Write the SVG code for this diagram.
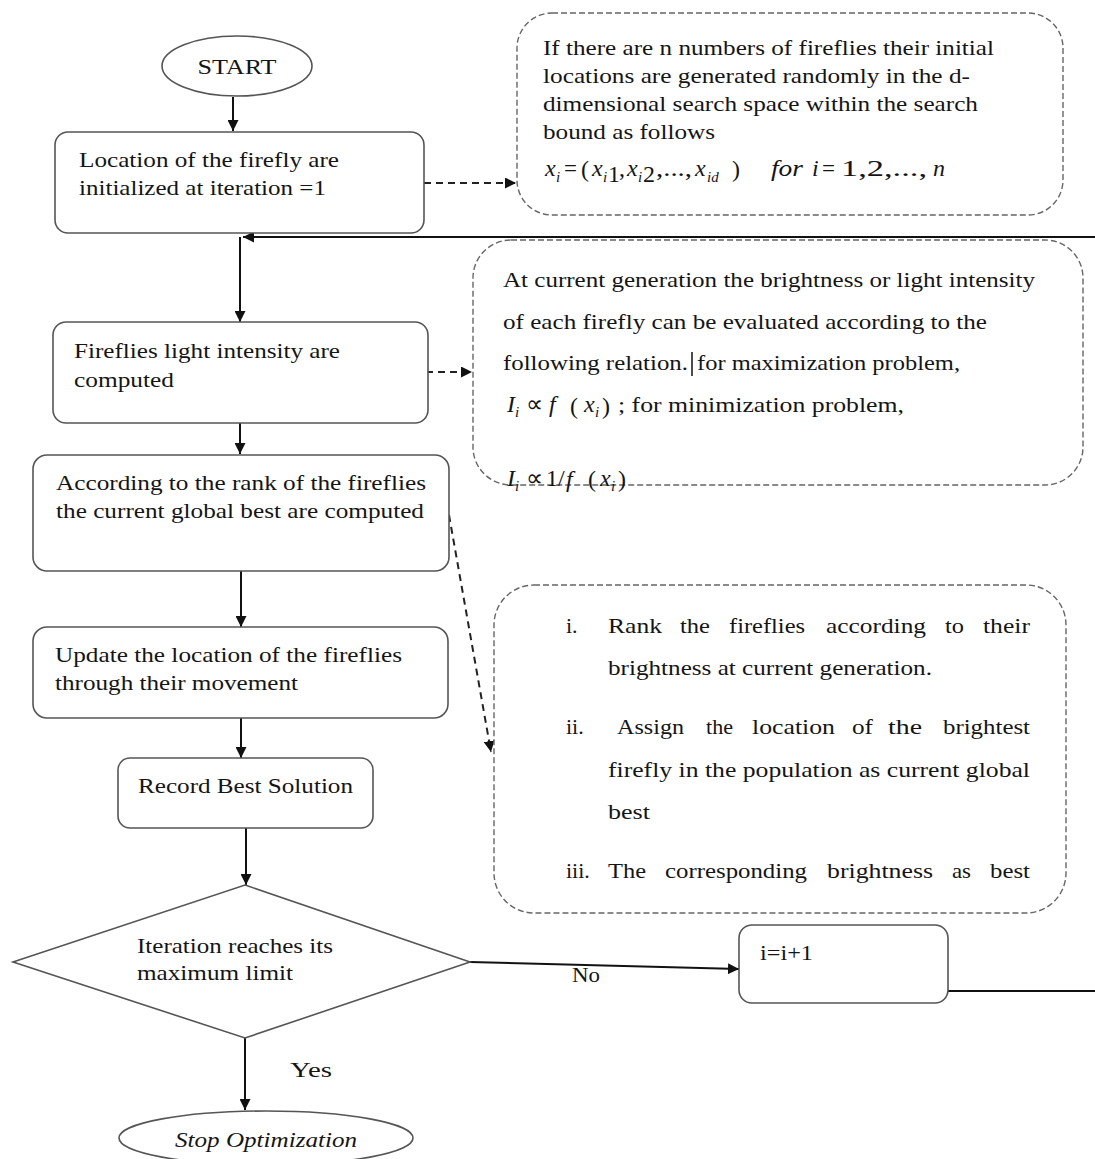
<svg xmlns="http://www.w3.org/2000/svg" width="1095" height="1159" viewBox="0 0 1095 1159">
<defs>
<style>
.t{font-family:"Liberation Serif","Times New Roman",serif;font-size:22px;fill:#151515}
.m{font-family:"Liberation Serif","Times New Roman",serif;font-size:24px;fill:#151515;font-style:italic}
.u{font-family:"Liberation Serif","Times New Roman",serif;font-size:24px;fill:#151515}
.s{font-family:"Liberation Serif","Times New Roman",serif;font-size:15px;fill:#151515;font-style:italic}
.box{fill:#fff;stroke:#555;stroke-width:1.6}
.dbox{fill:none;stroke:#666;stroke-width:1.4;stroke-dasharray:6 3}
.conn{fill:none;stroke:#111;stroke-width:2}
.dconn{fill:none;stroke:#222;stroke-width:2;stroke-dasharray:7 5}
</style>
<marker id="ah" viewBox="0 0 10 10" refX="10" refY="5" markerWidth="11" markerHeight="11" markerUnits="userSpaceOnUse" orient="auto">
<path d="M0,0 L10,5 L0,10 z" fill="#111"/>
</marker>
</defs>
<rect width="1095" height="1159" fill="#fff"/>

<g id="connectors">
<line class="conn" x1="233" y1="97" x2="233" y2="131" marker-end="url(#ah)"/>
<line class="dconn" x1="424" y1="183" x2="516" y2="183" marker-end="url(#ah)"/>
<line class="conn" x1="1095" y1="237" x2="243" y2="237" stroke-width="2.5" marker-end="url(#ah)"/>
<line class="conn" x1="240" y1="237" x2="240" y2="322" marker-end="url(#ah)"/>
<line class="dconn" x1="426" y1="372" x2="472" y2="372" marker-end="url(#ah)"/>
<line class="conn" x1="240" y1="423" x2="240" y2="454" marker-end="url(#ah)"/>
<line class="dconn" x1="449" y1="515" x2="491" y2="752" marker-end="url(#ah)"/>
<line class="conn" x1="241" y1="571" x2="241" y2="627" marker-end="url(#ah)"/>
<line class="conn" x1="241" y1="718" x2="241" y2="758" marker-end="url(#ah)"/>
<line class="conn" x1="246" y1="828" x2="246" y2="885" marker-end="url(#ah)"/>
<line class="conn" x1="470" y1="962" x2="739" y2="969" marker-end="url(#ah)"/>
<line class="conn" x1="245" y1="1038" x2="245" y2="1110" marker-end="url(#ah)"/>
<line class="conn" x1="948" y1="991" x2="1095" y2="991" stroke-width="2.5"/>
<text class="t" x="572" y="982" textLength="28" lengthAdjust="spacingAndGlyphs">No</text>
<text class="t" x="290" y="1077" font-size="26" textLength="42" lengthAdjust="spacingAndGlyphs">Yes</text>
</g>

<g id="start">
<ellipse class="box" cx="237" cy="66" rx="75" ry="30"/>
<text class="t" x="237" y="74" font-size="24" text-anchor="middle" textLength="79" lengthAdjust="spacingAndGlyphs">START</text>
</g>

<g id="init">
<rect class="box" x="55" y="132" width="369" height="101" rx="13"/>
<text class="t" x="79" y="167" textLength="260" lengthAdjust="spacingAndGlyphs">Location of the firefly are</text>
<text class="t" x="79" y="195" textLength="247" lengthAdjust="spacingAndGlyphs">initialized at iteration =1</text>
</g>

<g id="note-init">
<rect class="dbox" x="517" y="13" width="546" height="202" rx="35"/>
<text class="t" x="543" y="55" textLength="451" lengthAdjust="spacingAndGlyphs">If there are n numbers of fireflies their initial</text>
<text class="t" x="543" y="83" textLength="427" lengthAdjust="spacingAndGlyphs">locations are generated randomly in the d-</text>
<text class="t" x="543" y="111" textLength="435" lengthAdjust="spacingAndGlyphs">dimensional search space within the search</text>
<text class="t" x="543" y="139" textLength="172" lengthAdjust="spacingAndGlyphs">bound as follows</text>
<text class="m" x="545" y="176">x</text><text class="s" x="556" y="182">i</text>
<text class="u" x="564" y="176" textLength="13" lengthAdjust="spacingAndGlyphs">=</text>
<text class="u" x="581" y="177" font-size="28">(</text>
<text class="m" x="592" y="176">x</text><text class="s" x="603" y="182">i</text><text class="u" x="608" y="182" font-size="17">1</text>
<text class="u" x="619" y="176">,</text>
<text class="m" x="627" y="176">x</text><text class="s" x="638" y="182">i</text><text class="u" x="643" y="182" font-size="17">2</text>
<text class="u" x="656" y="176" font-size="20" textLength="36" lengthAdjust="spacingAndGlyphs">,...,</text>
<text class="m" x="695" y="176">x</text><text class="s" x="707" y="182" font-size="17">id</text>
<text class="u" x="732" y="177" font-size="28">)</text>
<text class="m" x="771" y="176" textLength="32" lengthAdjust="spacingAndGlyphs">for</text>
<text class="m" x="812" y="176">i</text>
<text class="u" x="822" y="176" textLength="13" lengthAdjust="spacingAndGlyphs">=</text>
<text class="u" x="841" y="176" textLength="86" lengthAdjust="spacingAndGlyphs">1,2,...,</text>
<text class="m" x="933" y="176">n</text>
</g>

<g id="intensity">
<rect class="box" x="53" y="322" width="375" height="101" rx="13"/>
<text class="t" x="74" y="358" textLength="266" lengthAdjust="spacingAndGlyphs">Fireflies light intensity are</text>
<text class="t" x="74" y="387" textLength="100" lengthAdjust="spacingAndGlyphs">computed</text>
</g>

<g id="note-intensity">
<rect class="dbox" x="473" y="240" width="610" height="245" rx="38"/>
<text class="t" x="503" y="287" textLength="532" lengthAdjust="spacingAndGlyphs">At current generation the brightness or light intensity</text>
<text class="t" x="503" y="329" textLength="484" lengthAdjust="spacingAndGlyphs">of each firefly can be evaluated according to the</text>
<text class="t" x="503" y="370" textLength="185" lengthAdjust="spacingAndGlyphs">following relation.</text>
<line x1="692" y1="352" x2="692" y2="376" stroke="#111" stroke-width="1.5"/>
<text class="t" x="697" y="370" textLength="263" lengthAdjust="spacingAndGlyphs">for maximization problem,</text>
<text class="m" x="507" y="412">I</text><text class="s" x="515" y="417" font-size="11">i</text>
<text class="u" x="526" y="412">∝</text>
<text class="m" x="549" y="412">f</text>
<text class="u" x="570" y="414" font-size="28">(</text>
<text class="m" x="584" y="412">x</text><text class="s" x="595" y="417" font-size="11">i</text>
<text class="u" x="602" y="414" font-size="28">)</text>
<text class="t" x="618" y="412" textLength="286" lengthAdjust="spacingAndGlyphs">; for minimization problem,</text>
<text class="m" x="507" y="486">I</text><text class="s" x="515" y="491" font-size="11">i</text>
<text class="u" x="526" y="486">∝</text>
<text class="u" x="546" y="486">1</text>
<text class="u" x="558" y="486">/</text>
<text class="m" x="566" y="487">f</text>
<text class="u" x="588" y="487" font-size="26">(</text>
<text class="m" x="600" y="486">x</text><text class="s" x="611" y="491" font-size="11">i</text>
<text class="u" x="618" y="487" font-size="26">)</text>
</g>

<g id="global-best">
<rect class="box" x="33" y="455" width="416" height="116" rx="14"/>
<text class="t" x="56" y="490" textLength="370" lengthAdjust="spacingAndGlyphs">According to the rank of the fireflies</text>
<text class="t" x="56" y="518" textLength="368" lengthAdjust="spacingAndGlyphs">the current global best are computed</text>
</g>

<g id="note-rank">
<rect class="dbox" x="494" y="585" width="572" height="328" rx="40"/>
<text class="t" x="566" y="633">i.</text>
<text class="t" x="608" y="633" textLength="54" lengthAdjust="spacingAndGlyphs">Rank</text>
<text class="t" x="680" y="633" textLength="30" lengthAdjust="spacingAndGlyphs">the</text>
<text class="t" x="729" y="633" textLength="76" lengthAdjust="spacingAndGlyphs">fireflies</text>
<text class="t" x="826" y="633" textLength="100" lengthAdjust="spacingAndGlyphs">according</text>
<text class="t" x="945" y="633" textLength="19" lengthAdjust="spacingAndGlyphs">to</text>
<text class="t" x="983" y="633" textLength="47" lengthAdjust="spacingAndGlyphs">their</text>
<text class="t" x="608" y="675" textLength="324" lengthAdjust="spacingAndGlyphs">brightness at current generation.</text>
<text class="t" x="566" y="734">ii.</text>
<text class="t" x="617" y="734" textLength="67" lengthAdjust="spacingAndGlyphs">Assign</text>
<text class="t" x="706" y="734" textLength="27" lengthAdjust="spacingAndGlyphs">the</text>
<text class="t" x="752" y="734" textLength="83" lengthAdjust="spacingAndGlyphs">location</text>
<text class="t" x="852" y="734" textLength="21" lengthAdjust="spacingAndGlyphs">of</text>
<text class="t" x="888" y="734" textLength="34" lengthAdjust="spacingAndGlyphs">the</text>
<text class="t" x="943" y="734" textLength="87" lengthAdjust="spacingAndGlyphs">brightest</text>
<text class="t" x="608" y="777" textLength="422" lengthAdjust="spacingAndGlyphs">firefly in the population as current global</text>
<text class="t" x="608" y="819" textLength="42" lengthAdjust="spacingAndGlyphs">best</text>
<text class="t" x="566" y="878">iii.</text>
<text class="t" x="608" y="878" textLength="38" lengthAdjust="spacingAndGlyphs">The</text>
<text class="t" x="665" y="878" textLength="142" lengthAdjust="spacingAndGlyphs">corresponding</text>
<text class="t" x="827" y="878" textLength="106" lengthAdjust="spacingAndGlyphs">brightness</text>
<text class="t" x="952" y="878" textLength="19" lengthAdjust="spacingAndGlyphs">as</text>
<text class="t" x="990" y="878" textLength="40" lengthAdjust="spacingAndGlyphs">best</text>
</g>

<g id="update">
<rect class="box" x="33" y="627" width="415" height="91" rx="14"/>
<text class="t" x="55" y="662" textLength="347" lengthAdjust="spacingAndGlyphs">Update the location of the fireflies</text>
<text class="t" x="55" y="690" textLength="243" lengthAdjust="spacingAndGlyphs">through their movement</text>
</g>

<g id="record">
<rect class="box" x="118" y="758" width="255" height="70" rx="12"/>
<text class="t" x="138" y="793" textLength="215" lengthAdjust="spacingAndGlyphs">Record Best Solution</text>
</g>

<g id="decision">
<polygon class="box" points="245,885 470,962 245,1038 13,962"/>
<text class="t" x="137" y="953" font-size="21" textLength="196" lengthAdjust="spacingAndGlyphs">Iteration reaches its</text>
<text class="t" x="137" y="980" font-size="21" textLength="156" lengthAdjust="spacingAndGlyphs">maximum limit</text>
</g>

<g id="increment">
<rect class="box" x="739" y="925" width="209" height="78" rx="13"/>
<text class="t" x="760" y="960" textLength="53" lengthAdjust="spacingAndGlyphs">i=i+1</text>
</g>

<g id="stop">
<ellipse class="box" cx="266" cy="1138" rx="147" ry="27"/>
<text class="t" x="266" y="1147" font-size="23" font-style="italic" text-anchor="middle" textLength="182" lengthAdjust="spacingAndGlyphs">Stop Optimization</text>
</g>
</svg>
